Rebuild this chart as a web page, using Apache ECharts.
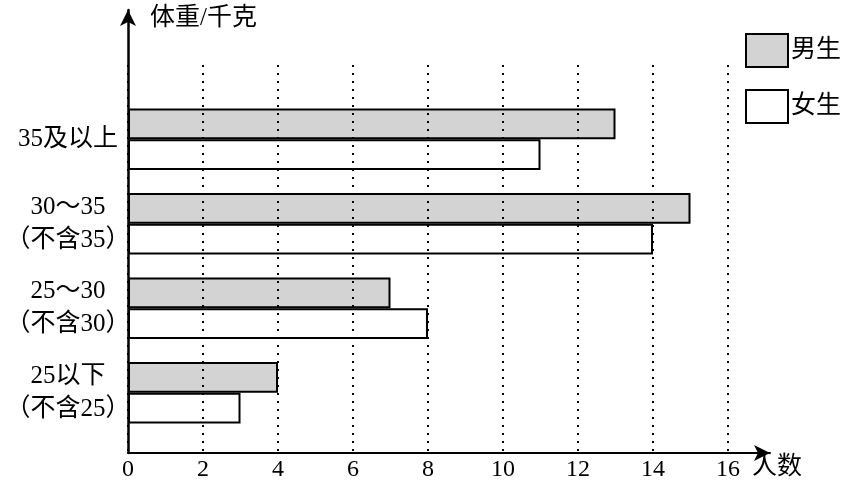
<!DOCTYPE html>
<html><head><meta charset="utf-8">
<script src="https://cdn.jsdelivr.net/npm/echarts@6/dist/echarts.min.js"></script>
<style>html,body{margin:0;padding:0;background:#fff}#c{width:845px;height:486px}</style>
</head><body><div id="c"></div>
<script>
const categories = ['25以下\n（不含25）', '25～30\n（不含30）', '30～35\n（不含35）', '35及以上'];
const male = [4, 7, 15, 13];
const female = [3, 8, 14, 11];
const seriesNames = ['男生', '女生'];
const xMin = 0, xMax = 16, xInterval = 2;
const FONT = "'Liberation Serif', 'Noto Sans CJK SC', serif";

const chart = echarts.init(document.getElementById('c'));
const txt = {color: '#000', fontFamily: FONT, fontSize: 25};
chart.setOption({
  animation: false,
  backgroundColor: '#fff',
  legend: {
    orient: 'vertical', left: 740, top: 28, itemWidth: 42, itemHeight: 33, itemGap: 21,
    icon: 'rect',
    textStyle: Object.assign({}, txt, {padding: [0,0,0,-2]}), data: seriesNames
  },
  grid: [
    {left: 128, right: 117, top: 97, bottom: 51},
    {left: 128, right: 117, top: 65, bottom: 33},
    {left: 128, right: 75, top: 10, bottom: 33}
  ],
  xAxis: [
    {gridIndex: 0, type: 'value', min: xMin, max: xMax, show: false},
    {gridIndex: 1, type: 'value', min: xMin, max: xMax, interval: xInterval, z: 5,
     axisLine: {show: false}, axisTick: {show: false},
     axisLabel: Object.assign({}, txt, {fontSize: 24, margin: 5}),
     splitLine: {show: true, lineStyle: {color: '#000', width: 2, type: [2, 6]}}},
    {gridIndex: 2, type: 'value', min: 0, max: 1, name: '人数', nameLocation: 'end', nameGap: -18,
     nameTextStyle: Object.assign({}, txt, {verticalAlign: 'top', align: 'left', padding: [2,0,0,0]}),
     axisLine: {show: true, symbol: ['none', 'arrow'], symbolSize: [12, 16], lineStyle: {color: '#000', width: 2}},
     axisTick: {show: false}, axisLabel: {show: false}, splitLine: {show: false}}
  ],
  yAxis: [
    {gridIndex: 0, type: 'category', data: categories,
     axisLine: {show: false}, axisTick: {show: false},
     axisLabel: Object.assign({}, txt, {align: 'center', margin: 60, lineHeight: 33})},
    {gridIndex: 1, type: 'value', show: false},
    {gridIndex: 2, type: 'value', min: 0, max: 1, name: '体重/千克', nameLocation: 'end', nameGap: -8,
     nameTextStyle: Object.assign({}, txt, {align: 'left', verticalAlign: 'middle', padding: [0,0,0,22]}),
     axisLine: {show: true, symbol: ['none', 'arrow'], symbolSize: [12, 16], lineStyle: {color: '#000', width: 2.5}},
     axisTick: {show: false}, axisLabel: {show: false}, splitLine: {show: false}}
  ],
  series: [
    {name: seriesNames[0], type: 'bar', xAxisIndex: 0, yAxisIndex: 0, data: male,
     barGap: '0%', barCategoryGap: '27%',
     itemStyle: {color: '#d3d3d3', borderColor: '#000', borderWidth: 2}},
    {name: seriesNames[1], type: 'bar', xAxisIndex: 0, yAxisIndex: 0, data: female,
     barGap: '0%', barCategoryGap: '27%',
     itemStyle: {color: '#fff', borderColor: '#000', borderWidth: 2}}
  ]
});
</script></body></html>
